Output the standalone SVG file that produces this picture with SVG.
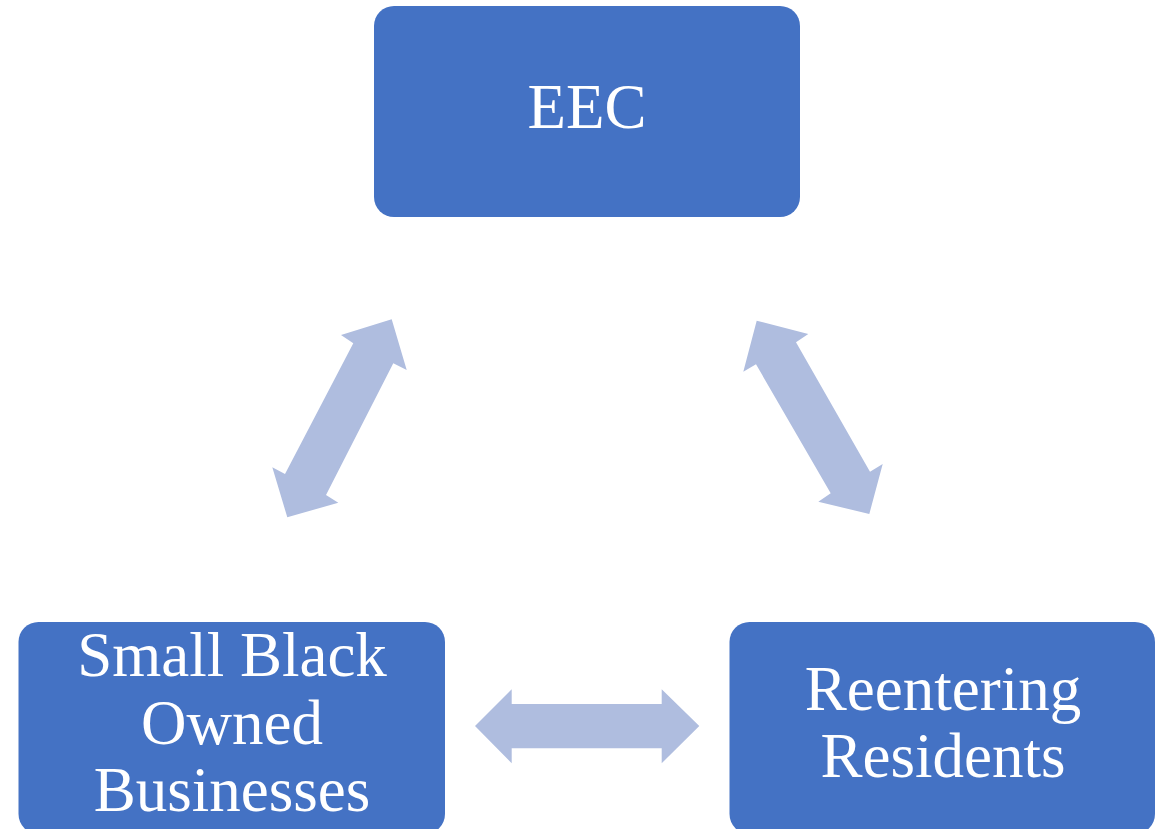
<svg xmlns="http://www.w3.org/2000/svg" width="1161" height="829" viewBox="0 0 1161 829">
<style>
.box{fill:#4472C4;}
.lbl{font-family:"Liberation Serif","Times New Roman",serif;font-size:63px;fill:#FFFFFF;text-anchor:middle;}
.arr{fill:#AFBDDF;}
</style>
<rect width="1161" height="829" fill="#FFFFFF"/>
<g id="connectors">
<polygon class="arr" points="391.7,319.3 406.7,370 393.3,363.3 326,495 338.3,502.7 287.3,517.3 272.3,467.3 285,474 353.3,343.3 341,335"/>
<polygon class="arr" points="756.7,320.7 808.3,334 796,342.3 870,471.7 882.7,464 869.3,514 818.3,501.7 830.7,493.3 756,364.3 743.3,371.7"/>
<polygon class="arr" points="475,726 511.7,689.3 511.7,704 661.7,704 661.7,689.3 699.3,726 661.7,763.3 661.7,748.3 511.7,748.3 511.7,763.3"/>
</g>
<g id="node-eec">
<rect class="box" x="374" y="6" width="426" height="211" rx="20" ry="20"/>
<text class="lbl" x="587" y="128">EEC</text>
</g>
<g id="node-small-black-owned-businesses">
<rect class="box" x="18.5" y="622" width="426.5" height="212" rx="20" ry="20"/>
<text class="lbl" x="232" y="676">Small Black</text>
<text class="lbl" x="232" y="744">Owned</text>
<text class="lbl" x="232" y="811">Businesses</text>
</g>
<g id="node-reentering-residents">
<rect class="box" x="729.5" y="622" width="425.5" height="212" rx="20" ry="20"/>
<text class="lbl" x="943" y="710">Reentering</text>
<text class="lbl" x="943" y="777">Residents</text>
</g>
</svg>
